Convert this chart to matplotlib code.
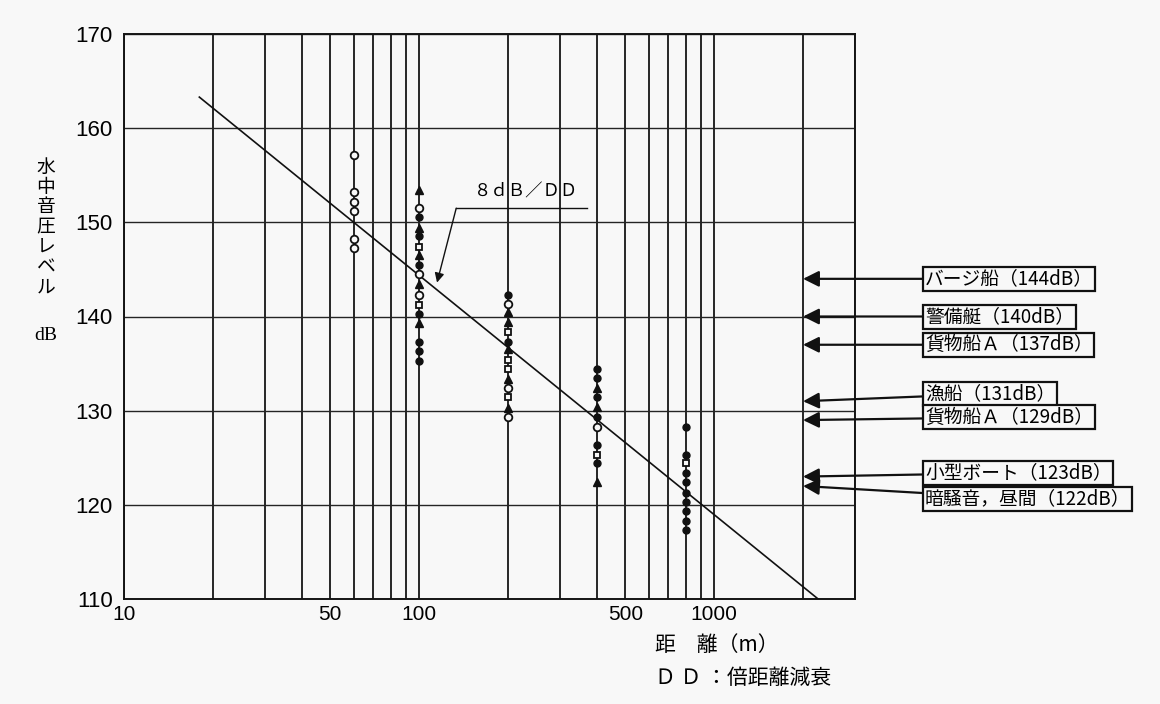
import matplotlib
matplotlib.use("Agg")
import matplotlib.pyplot as plt
from matplotlib.ticker import FixedLocator, LogLocator, NullFormatter, FixedFormatter
from matplotlib.transforms import blended_transform_factory

CJK = ["Noto Sans CJK JP", "DejaVu Sans"]
NUM = ["Liberation Sans", "DejaVu Sans"]
BG = "#f8f8f8"

# Measured underwater sound pressure levels (dB) at each distance (m), by marker type
filled_d = [100, 100, 100, 100, 100, 100, 100,
            200, 200,
            400, 400, 400, 400, 400, 400,
            800, 800, 800, 800, 800, 800, 800, 800, 800]
filled_db = [150.6, 148.5, 145.5, 140.3, 137.3, 136.3, 135.3,
             142.3, 137.3,
             134.4, 133.5, 131.5, 129.3, 126.4, 124.4,
             128.3, 125.3, 123.4, 122.4, 121.3, 120.3, 119.3, 118.3, 117.3]

open_circle_d = [60, 60, 60, 60, 60, 60,
                 100, 100, 100,
                 200, 200, 200,
                 400]
open_circle_db = [157.2, 153.2, 152.2, 151.2, 148.2, 147.3,
                  151.5, 144.5, 142.3,
                  141.3, 132.4, 129.3,
                  128.3]

triangle_d = [100, 100, 100, 100, 100,
              200, 200, 200, 200, 200,
              400, 400, 400]
triangle_db = [153.4, 149.4, 146.5, 143.4, 139.3,
               140.5, 139.4, 136.5, 133.4, 130.3,
               132.4, 130.4, 122.4]

square_d = [100, 100,
            200, 200, 200, 200,
            400,
            800]
square_db = [147.4, 141.2,
             138.4, 135.4, 134.4, 131.4,
             125.3,
             124.4]

# Distance attenuation line (8 dB per doubling of distance)
fit_d = [18, 2250]
fit_db = [163.3, 110.0]

# Source levels shown on the right
source_labels = ["バージ船（144dB）", "警備艇（140dB）", "貨物船Ａ（137dB）", "漁船（131dB）",
                 "貨物船Ａ（129dB）", "小型ボート（123dB）", "暗騒音，昼間（122dB）"]
source_db = [144, 140, 137, 131, 129, 123, 122]
label_y = [144, 140, 137, 131.8, 129.3, 123.4, 120.6]

x_tick_values = [10, 50, 100, 500, 1000]
x_tick_labels = ["10", "50", "100", "500", "1000"]
y_tick_values = [110, 120, 130, 140, 150, 160, 170]

fig = plt.figure(figsize=(11.6, 7.04), dpi=100, facecolor=BG)
W, H = 1160, 704
AX_L, AX_R = 124, 855
ax = fig.add_axes([AX_L / W, 1 - 599 / H, (AX_R - AX_L) / W, 565 / H], facecolor=BG)

ax.set_xscale("log")
ax.set_xlim(10, 3000)
ax.set_ylim(110, 170)

ax.xaxis.set_major_locator(FixedLocator(x_tick_values))
ax.xaxis.set_major_formatter(FixedFormatter(x_tick_labels))
ax.xaxis.set_minor_locator(LogLocator(base=10, subs=range(2, 10)))
ax.xaxis.set_minor_formatter(NullFormatter())
ax.set_yticks(y_tick_values)
ax.tick_params(axis="both", which="both", length=0)
ax.tick_params(axis="x", pad=4, labelsize=15)
ax.tick_params(axis="y", pad=8, labelsize=16)
for lab in ax.get_xticklabels() + ax.get_yticklabels():
    lab.set_family(NUM)

ax.grid(True, axis="x", which="both", color="#151515", lw=1.3)
ax.grid(True, axis="y", which="major", color="#252525", lw=1.0)
ax.set_axisbelow(True)
for s in ax.spines.values():
    s.set_linewidth(1.4)
    s.set_color("#151515")

# attenuation line
ax.plot(fit_d, fit_db, color="#111111", lw=1.2, zorder=3)

# measurement points
ms = 5
ax.plot(filled_d, filled_db, ls="none", marker="o", ms=ms, mfc="#111111", mec="#111111", zorder=4)
ax.plot(open_circle_d, open_circle_db, ls="none", marker="o", ms=ms + 0.5, mfc=BG, mec="#111111",
        mew=1.3, zorder=4)
ax.plot(triangle_d, triangle_db, ls="none", marker="^", ms=ms + 0.5, mfc="#111111", mec="#111111", zorder=4)
ax.plot(square_d, square_db, ls="none", marker="s", ms=ms, mfc=BG, mec="#111111", mew=1.3, zorder=4)

# 8 dB/DD annotation with leader
ax.text(231, 153.3, "８ｄＢ／ＤＤ", fontsize=12.5, family=CJK, ha="center", va="center")
ax.plot([133.6, 370], [151.5, 151.5], color="#111111", lw=1.0)
ax.annotate("", xy=(115, 143.6), xytext=(133.6, 151.5),
            arrowprops=dict(arrowstyle="-|>", color="#111111", lw=1.0, mutation_scale=14,
                            shrinkA=0, shrinkB=0))

# source level arrows and boxes
tr = blended_transform_factory(ax.transAxes, ax.transData)
box_x = (925 - AX_L) / (AX_R - AX_L)
for lab, val, ly in zip(source_labels, source_db, label_y):
    ax.annotate(lab, xy=(2000, val), xycoords="data", xytext=(box_x, ly), textcoords=tr,
                ha="left", va="center", fontsize=13.5, family=CJK, annotation_clip=False,
                bbox=dict(boxstyle="square,pad=0.08", fc=BG, ec="#111111", lw=1.6),
                arrowprops=dict(arrowstyle="-|>", color="#111111", lw=1.6, mutation_scale=24,
                                shrinkA=0, shrinkB=0))

# vertical y-axis title
ychars = "水中音圧レベル"
for i, ch in enumerate(ychars):
    fig.text(46 / W, 1 - (167 + i * 20) / H, ch, fontsize=13.5, family=CJK, ha="center", va="center")
fig.text(46 / W, 1 - 336 / H, "dB", fontsize=14, family=["Liberation Serif", "DejaVu Serif"],
         ha="center", va="center")

# x-axis title and note
fig.text(655 / W, 1 - 645 / H, "距　離（m）", fontsize=15, family=CJK, ha="left", va="center")
fig.text(655 / W, 1 - 678 / H, "Ｄ Ｄ ：倍距離減衰", fontsize=15, family=CJK, ha="left", va="center")

fig.savefig("out.png", dpi=100, facecolor=BG)
